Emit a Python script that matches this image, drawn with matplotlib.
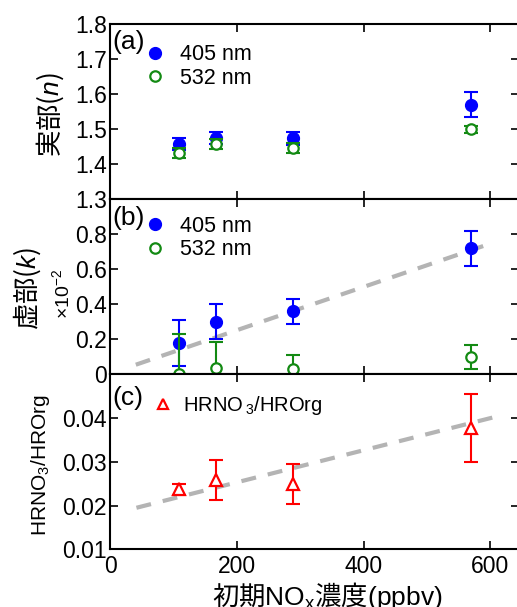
import matplotlib
matplotlib.use('Agg')
import matplotlib.pyplot as plt
from matplotlib.lines import Line2D

plt.rcParams['font.family'] = ['Liberation Sans', 'Noto Sans CJK JP', 'DejaVu Sans']
plt.rcParams['mathtext.fontset'] = 'custom'
plt.rcParams['mathtext.rm'] = 'Liberation Sans'
plt.rcParams['mathtext.sf'] = 'Liberation Sans'
plt.rcParams['mathtext.it'] = 'Liberation Sans:italic'

# data
nox = [108, 167, 288, 570]

n405 = [1.458, 1.475, 1.474, 1.570]
n405_err = [0.018, 0.016, 0.018, 0.036]
n532 = [1.432, 1.458, 1.447, 1.500]
n532_err = [0.015, 0.015, 0.015, 0.010]

k405 = [0.18, 0.30, 0.36, 0.72]
k405_err = [0.13, 0.10, 0.07, 0.10]
k532 = [0.0, 0.036, 0.033, 0.099]
k532_err = [0.23, 0.15, 0.08, 0.07]

ratio = [0.0237, 0.0258, 0.0249, 0.0377]
ratio_err = [0.0013, 0.0046, 0.0046, 0.0077]

fit_k_x = [40, 595]
fit_k_y = [0.055, 0.741]
fit_r_x = [41, 611]
fit_r_y = [0.0195, 0.0404]

xticks = [0, 200, 400, 600]

BLUE = '#0000ff'
GREEN = '#138a13'
RED = '#ff0000'
GRAY = '#b4b4b4'
CJK = 'Noto Sans CJK JP'

fig = plt.figure(figsize=(5.17, 6.07), dpi=100)
L, W, H = 0.2137, 0.79, 0.2883
ax_a = fig.add_axes([L, 0.095 + 2 * H, W, H])
ax_b = fig.add_axes([L, 0.095 + H, W, H])
ax_c = fig.add_axes([L, 0.095, W, H])

for ax in (ax_a, ax_b, ax_c):
    ax.set_xlim(0, 645)
    ax.set_xticks(xticks)
    ax.tick_params(direction='in', length=6, width=1.2, top=True, right=True,
                   labelsize=16.5)
    ax.tick_params(axis='y', pad=2.5)
    ax.tick_params(axis='x', pad=4)
    for s in ax.spines.values():
        s.set_linewidth(1.5)
for ax in (ax_a, ax_b):
    ax.tick_params(labelbottom=False)

eb = dict(fmt='none', capsize=5, elinewidth=1.5, capthick=1.5)

# (a)
ax_a.set_ylim(1.3, 1.8)
ax_a.set_yticks([1.3, 1.4, 1.5, 1.6, 1.7, 1.8])
ax_a.errorbar(nox, n405, yerr=n405_err, ecolor=BLUE, **eb)
ax_a.plot(nox, n405, 'o', color=BLUE, ms=8.5, clip_on=False)
ax_a.errorbar(nox, n532, yerr=n532_err, ecolor=GREEN, **eb)
ax_a.plot(nox, n532, 'o', mfc='white', mec=GREEN, mew=1.6, ms=7.5, clip_on=False)

# (b)
ax_b.set_ylim(0, 1.0)
ax_b.set_yticks([0, 0.2, 0.4, 0.6, 0.8])
ax_b.set_yticklabels(['0', '0.2', '0.4', '0.6', '0.8'])
ax_b.plot(fit_k_x, fit_k_y, color=GRAY, lw=3, dashes=[3.6, 2.9], zorder=1)
ax_b.errorbar(nox, k405, yerr=k405_err, ecolor=BLUE, **eb)
ax_b.plot(nox, k405, 'o', color=BLUE, ms=8.5, clip_on=False)
ax_b.errorbar(nox, k532, yerr=k532_err, ecolor=GREEN, **eb)
ax_b.plot(nox, k532, 'o', mfc='white', mec=GREEN, mew=1.6, ms=7.5, clip_on=False)

# (c)
ax_c.set_ylim(0.01, 0.05)
ax_c.set_yticks([0.01, 0.02, 0.03, 0.04])
ax_c.plot(fit_r_x, fit_r_y, color=GRAY, lw=3, dashes=[3.6, 2.9], zorder=1)
ax_c.errorbar(nox, ratio, yerr=ratio_err, ecolor=RED, **eb)
ax_c.plot(nox, ratio, '^', mfc='white', mec=RED, mew=1.6, ms=8.5, clip_on=False)

# legends
h405 = Line2D([], [], ls='none', marker='o', color=BLUE, ms=8.5)
h532 = Line2D([], [], ls='none', marker='o', mfc='white', mec=GREEN, mew=1.6, ms=7.5)
hr = Line2D([], [], ls='none', marker='^', mfc='white', mec=RED, mew=1.6, ms=7)
leg_kw = dict(frameon=False, handlelength=1.0, borderpad=0,
              borderaxespad=0, loc='upper left')
ax_a.legend([h405, h532], ['405 nm', '532 nm'], bbox_to_anchor=(0.083, 0.885),
            handletextpad=0.65, fontsize=15.5, labelspacing=0.1, **leg_kw)
ax_b.legend([h405, h532], ['405 nm', '532 nm'], bbox_to_anchor=(0.083, 0.905),
            handletextpad=0.65, fontsize=15.5, labelspacing=0.1, **leg_kw)
ax_c.legend([hr], [r'HRNO$\,_3$/HROrg'], bbox_to_anchor=(0.105, 0.885),
            handletextpad=0.45, fontsize=14.5, **leg_kw)

for ax, lab, y in ((ax_a, '(a)', 0.899), (ax_b, '(b)', 0.891), (ax_c, '(c)', 0.864)):
    ax.text(0.004, y, lab, transform=ax.transAxes, ha='left', va='center', fontsize=19)

# axis labels (CJK text as the base font, Latin bits through mathtext)
fig.text(50 / 517, 1 - 114.5 / 607, r'実部($\mathit{n}$)', family=CJK,
         rotation=90, ha='center', va='center', fontsize=19)
fig.text(27 / 517, 1 - 288.5 / 607, r'虚部($\mathit{k}$)', family=CJK,
         rotation=90, ha='center', va='center', fontsize=19)
fig.text(62 / 517, 1 - 294 / 607, r'×10$^{-2}$', rotation=90, ha='center', va='center', fontsize=14)
fig.text(41 / 517, 1 - 465.5 / 607, r'HRNO$_3$/HROrg', rotation=90, ha='center', va='center', fontsize=15)
fig.text(327 / 517, 1 - 596 / 607, r'初期$\mathsf{NO_x}$濃度$\mathsf{(ppbv)}$', family=CJK,
         ha='center', va='center', fontsize=19)

fig.savefig('out.png', dpi=100)
